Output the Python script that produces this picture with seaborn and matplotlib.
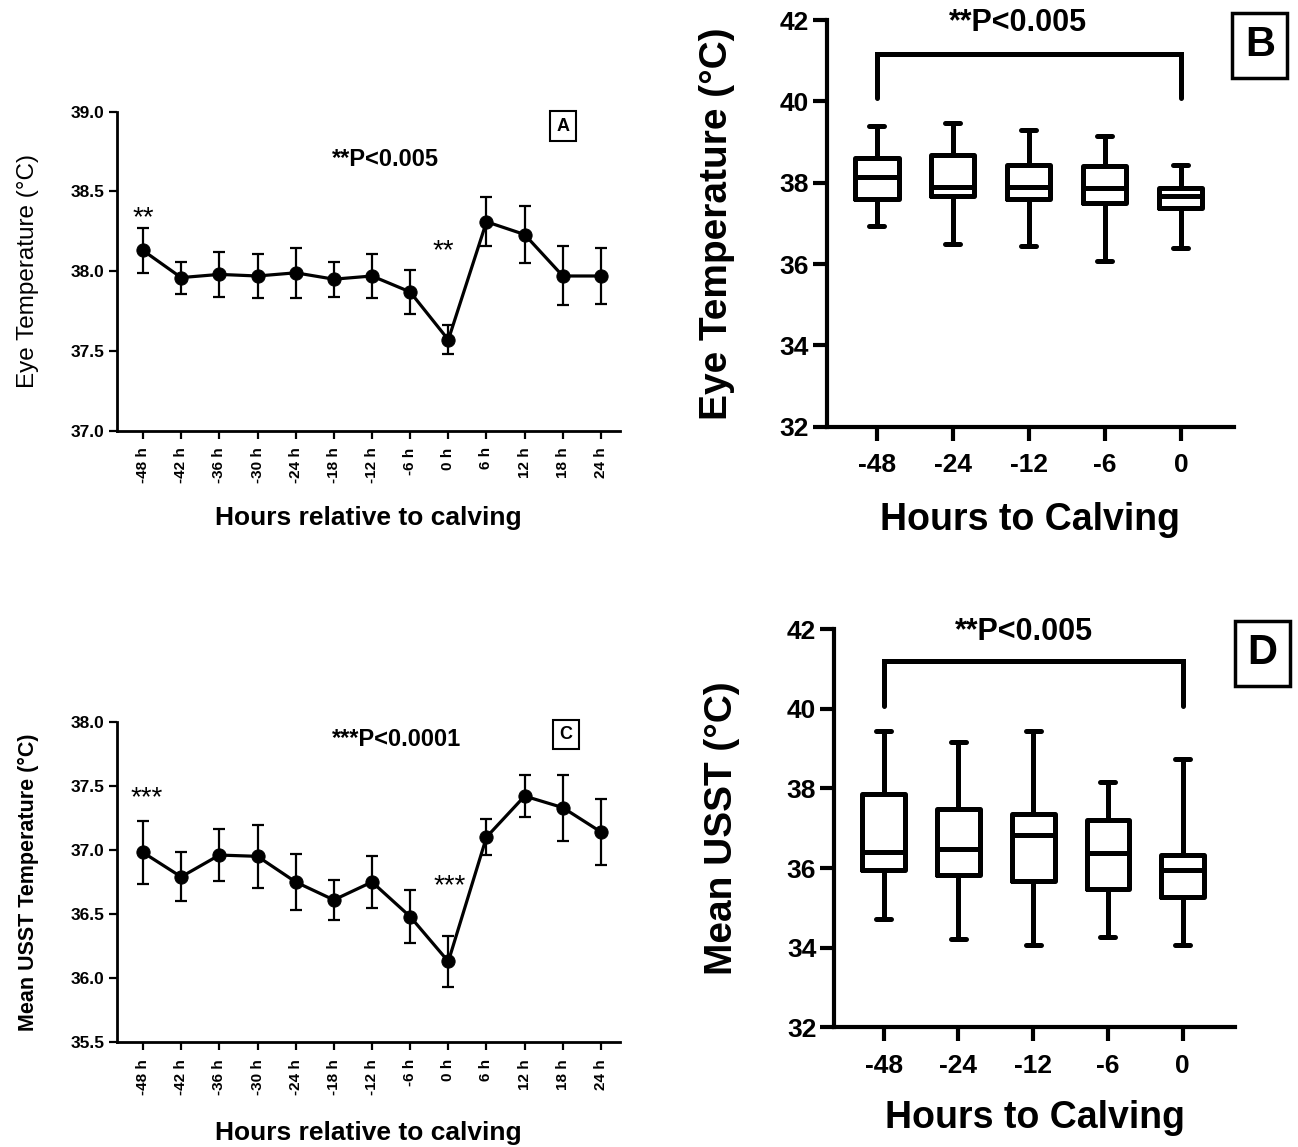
import numpy as np
import pandas as pd
import matplotlib
matplotlib.use("Agg")
import matplotlib.pyplot as plt
import seaborn as sns

# ---------------- data ----------------
hours_line = ['-48 h', '-42 h', '-36 h', '-30 h', '-24 h', '-18 h', '-12 h',
              '-6 h', '0 h', '6 h', '12 h', '18 h', '24 h']
eye_mean = [38.13, 37.96, 37.98, 37.97, 37.99, 37.95, 37.97, 37.87, 37.57, 38.31, 38.23, 37.97, 37.97]
eye_sem = [0.14, 0.10, 0.14, 0.135, 0.155, 0.11, 0.14, 0.14, 0.09, 0.155, 0.18, 0.185, 0.178]
usst_mean = [36.98, 36.79, 36.96, 36.95, 36.75, 36.61, 36.75, 36.48, 36.13, 37.10, 37.42, 37.33, 37.14]
usst_sem = [0.245, 0.19, 0.20, 0.245, 0.22, 0.157, 0.205, 0.205, 0.20, 0.143, 0.165, 0.258, 0.257]

hours_box = ['-48', '-24', '-12', '-6', '0']
eye_min = [36.93, 36.50, 36.44, 36.07, 36.40]
eye_q1 = [37.61, 37.67, 37.59, 37.49, 37.39]
eye_med = [38.14, 37.90, 37.89, 37.87, 37.67]
eye_q3 = [38.61, 38.68, 38.43, 38.41, 37.86]
eye_max = [39.39, 39.46, 39.29, 39.15, 38.43]

usst_min = [34.73, 34.22, 34.07, 34.27, 34.07]
usst_q1 = [35.94, 35.82, 35.67, 35.48, 35.27]
usst_med = [36.40, 36.49, 36.84, 36.39, 35.94]
usst_q3 = [37.87, 37.49, 37.37, 37.20, 36.32]
usst_max = [39.44, 39.17, 39.44, 38.17, 38.75]

# ---------------- style ----------------
sns.set_theme(style="ticks")
plt.rcParams['font.family'] = ['Liberation Sans', 'DejaVu Sans']
plt.rcParams['axes.edgecolor'] = 'black'
plt.rcParams['xtick.color'] = 'black'
plt.rcParams['ytick.color'] = 'black'
plt.rcParams['text.color'] = 'black'
plt.rcParams['axes.labelcolor'] = 'black'
plt.rcParams['xtick.labelcolor'] = 'black'
plt.rcParams['ytick.labelcolor'] = 'black'

fig = plt.figure(figsize=(12.98, 11.47), dpi=100)

axA = fig.add_axes([0.0899, 0.6245, 0.3878, 0.2781])
axC = fig.add_axes([0.0899, 0.0913, 0.3878, 0.2795])
axB = fig.add_axes([0.6369, 0.6280, 0.3138, 0.3545])
axD = fig.add_axes([0.6428, 0.1044, 0.3087, 0.3470])


def line_panel(ax, means, sems, ylim, yticks, ylabel, ylabel_kw, p_text, p_xy,
               stars, star_pos, letter, letter_xy, xlabel_y):
    x = np.arange(len(hours_line))
    df = pd.DataFrame({'x': x, 'y': means})
    sns.lineplot(data=df, x='x', y='y', ax=ax, color='black', linewidth=2.3,
                 marker='o', markersize=9.5, markeredgecolor='black',
                 markerfacecolor='black', zorder=3)
    ax.errorbar(x, means, yerr=sems, fmt='none', ecolor='black',
                elinewidth=1.6, capsize=4.5, capthick=1.6, zorder=2)
    ax.set_xlim(-0.69, 12.5)
    ax.set_ylim(*ylim)
    ax.set_yticks(yticks)
    ax.set_yticklabels([f'{v:.1f}' for v in yticks], fontsize=12.5,
                       fontweight='bold')
    ax.set_xticks(x)
    ax.set_xticklabels(hours_line, rotation=90, fontsize=11,
                       fontweight='bold')
    ax.tick_params(axis='both', direction='out', length=6, width=1.6,
                   pad=3)
    ax.tick_params(axis='x', pad=6)
    for s in ['top', 'right']:
        ax.spines[s].set_visible(False)
    for s in ['left', 'bottom']:
        ax.spines[s].set_linewidth(2.0)
    ax.set_ylabel(ylabel, **ylabel_kw)
    ax.set_xlabel('Hours relative to calving', fontsize=19, fontweight='bold')
    ax.yaxis.set_label_coords(-0.176, 0.5)
    ax.yaxis.label.set_va('center')
    ax.xaxis.set_label_coords(0.5, xlabel_y)
    ax.xaxis.label.set_va('center')
    ax.text(p_xy[0], p_xy[1], p_text, fontsize=17, fontweight='bold',
            ha='center', va='center')
    for (sx, sy) in star_pos:
        ax.text(sx, sy, stars, fontsize=20, ha='center', va='center')
    ax.text(letter_xy[0], letter_xy[1], letter, fontsize=13, fontweight='bold',
            ha='center', va='center',
            bbox=dict(boxstyle='square,pad=0.35', fc='white', ec='black', lw=1.5))


line_panel(axA, eye_mean, eye_sem, (37.0, 39.0), [37.0, 37.5, 38.0, 38.5, 39.0],
           'Eye Temperature (°C)', dict(fontsize=17.5),
           '**P<0.005', (6.34, 38.70), '**', [(0.0, 38.335), (7.88, 38.125)],
           'A', (11.0, 38.91), -0.274)

line_panel(axC, usst_mean, usst_sem, (35.5, 38.0), [35.5, 36.0, 36.5, 37.0, 37.5, 38.0],
           'Mean USST Temperature (°C)', dict(fontsize=15.5, fontweight='bold'),
           '***P<0.0001', (6.65, 37.865), '***', [(0.1, 37.40), (8.04, 36.72)],
           'C', (11.08, 37.90), -0.283)


def box_panel(ax, mins, q1s, meds, q3s, maxs, ylabel, p_xy, letter, letter_xy,
              bracket_y, leg_y, ylabel_x):
    rows = []
    for h, a, b, c, d, e in zip(hours_box, mins, q1s, meds, q3s, maxs):
        for v in (a, b, c, d, e):
            rows.append({'hour': h, 'temp': v})
    df = pd.DataFrame(rows)
    sns.boxplot(data=df, x='hour', y='temp', order=hours_box, ax=ax,
                whis=(0, 100), width=0.57, fill=False, color='black',
                linewidth=3.6, capwidths=0.2, showfliers=False)
    ax.set_xlim(-0.66, 4.7)
    ax.set_ylim(32, 42)
    ax.set_yticks([32, 34, 36, 38, 40, 42])
    ax.set_yticklabels(['32', '34', '36', '38', '40', '42'], fontsize=19,
                       fontweight='bold')
    ax.set_xticklabels(hours_box, fontsize=19, fontweight='bold')
    ax.tick_params(axis='both', direction='out', length=10, width=3)
    ax.tick_params(axis='y', pad=3)
    ax.tick_params(axis='x', pad=9)
    for s in ['top', 'right']:
        ax.spines[s].set_visible(False)
    for s in ['left', 'bottom']:
        ax.spines[s].set_linewidth(3)
    ax.set_ylabel(ylabel, fontsize=28, fontweight='bold')
    ax.set_xlabel('Hours to Calving', fontsize=27, fontweight='bold')
    ax.yaxis.set_label_coords(ylabel_x, 0.5)
    ax.yaxis.label.set_va('center')
    ax.xaxis.set_label_coords(0.5, -0.229)
    ax.xaxis.label.set_va('center')
    # bracket
    ax.plot([0, 0, 4, 4], [leg_y, bracket_y, bracket_y, leg_y], color='black',
            lw=3.6, solid_joinstyle='miter', clip_on=False)
    ax.text(p_xy[0], p_xy[1], '**P<0.005', fontsize=22, fontweight='bold',
            ha='center', va='center', clip_on=False)
    ax.text(letter_xy[0], letter_xy[1], letter, fontsize=30, fontweight='bold',
            ha='center', va='center', clip_on=False,
            bbox=dict(boxstyle='square,pad=0.3', fc='white', ec='black', lw=2.5))


box_panel(axB, eye_min, eye_q1, eye_med, eye_q3, eye_max,
          'Eye Temperature (°C)', (1.86, 41.93), 'B', (5.04, 41.38),
          41.17, 40.09, -0.269)
box_panel(axD, usst_min, usst_q1, usst_med, usst_q3, usst_max,
          'Mean USST (°C)', (1.88, 41.94), 'D', (5.07, 41.40),
          41.19, 40.07, -0.28)

fig.savefig('out.png', dpi=100, facecolor='white')
